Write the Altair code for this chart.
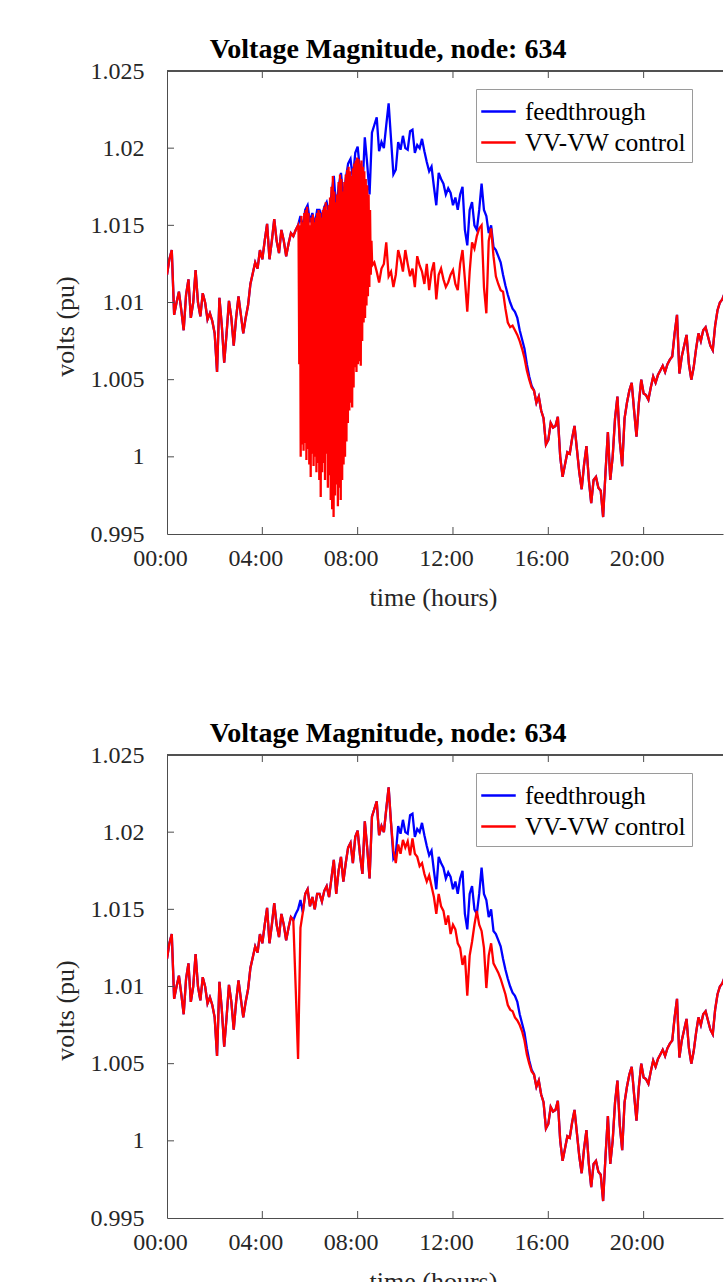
import altair as alt
import pandas as pd

# ---------------- data ----------------
# time grid: 0.0 .. 24.0 h every 0.1 h
HOUR_STEP = 0.1
FEEDTHROUGH = [
    1.0118, 1.0128, 1.0134, 1.0092, 1.0100, 1.0107, 1.0095, 1.0082, 1.0105, 1.0115,  # 0
    1.0090, 1.0100, 1.0121, 1.0100, 1.0091, 1.0106, 1.0100, 1.0089, 1.0093, 1.0088,  # 1
    1.0080, 1.0055, 1.0103, 1.0085, 1.0061, 1.0080, 1.0101, 1.0090, 1.0072, 1.0090,  # 2
    1.0104, 1.0092, 1.0080, 1.0090, 1.0098, 1.0112, 1.0119, 1.0126, 1.0122, 1.0134,  # 3
    1.0128, 1.0140, 1.0151, 1.0128, 1.0140, 1.0154, 1.0140, 1.0132, 1.0147, 1.0140,  # 4
    1.0130, 1.0138, 1.0145, 1.0143, 1.0147, 1.0150, 1.0156, 1.0148, 1.0160, 1.0163,  # 5
    1.0152, 1.0158, 1.0150, 1.0160, 1.0160, 1.0155, 1.0162, 1.0165, 1.0158, 1.0170,  # 6
    1.0182, 1.0160, 1.0175, 1.0184, 1.0168, 1.0180, 1.0190, 1.0193, 1.0180, 1.0197,  # 7
    1.0201, 1.0185, 1.0173, 1.0207, 1.0190, 1.0170, 1.0210, 1.0215, 1.0220, 1.0198,  # 8
    1.0204, 1.0200, 1.0215, 1.0229, 1.0206, 1.0183, 1.0186, 1.0204, 1.0199, 1.0208,  # 9
    1.0200, 1.0199, 1.0211, 1.0212, 1.0197, 1.0202, 1.0200, 1.0206, 1.0198, 1.0191,  # 10
    1.0185, 1.0188, 1.0175, 1.0163, 1.0184, 1.0180, 1.0177, 1.0170, 1.0174, 1.0171,  # 11
    1.0163, 1.0168, 1.0160, 1.0170, 1.0175, 1.0147, 1.0137, 1.0160, 1.0165, 1.0150,  # 12
    1.0147, 1.0160, 1.0177, 1.0160, 1.0156, 1.0145, 1.0150, 1.0136, 1.0134, 1.0130,  # 13
    1.0126, 1.0118, 1.0111, 1.0105, 1.0100, 1.0096, 1.0094, 1.0090, 1.0082, 1.0076,  # 14
    1.0070, 1.0060, 1.0052, 1.0046, 1.0043, 1.0035, 1.0039, 1.0030, 1.0025, 1.0008,  # 15
    1.0011, 1.0022, 1.0019, 1.0020, 1.0026, 1.0000, 0.9987, 0.9995, 1.0003, 1.0002,  # 16
    1.0012, 1.0020, 1.0005, 0.9990, 0.9979, 0.9995, 1.0007, 0.9985, 0.9970, 0.9985,  # 17
    0.9987, 0.9980, 0.9978, 0.9961, 0.9990, 1.0016, 0.9985, 1.0000, 1.0025, 1.0039,  # 18
    1.0010, 0.9994, 1.0025, 1.0035, 1.0043, 1.0048, 1.0030, 1.0013, 1.0035, 1.0050,  # 19
    1.0041, 1.0040, 1.0037, 1.0045, 1.0052, 1.0048, 1.0053, 1.0056, 1.0059, 1.0055,  # 20
    1.0060, 1.0063, 1.0065, 1.0080, 1.0092, 1.0054, 1.0065, 1.0072, 1.0079, 1.0060,  # 21
    1.0050, 1.0058, 1.0070, 1.0080, 1.0075, 1.0082, 1.0084, 1.0078, 1.0072, 1.0069,  # 22
    1.0085, 1.0095, 1.0100, 1.0102, 1.0106, 1.0098, 1.0108, 1.0112, 1.0105, 1.0115,  # 23
    1.0118,                                                                          # 24
]

# top panel, VV-VW control: dense oscillation band 5.52 h .. 8.61 h
BAND_START = 5.52
BAND_STEP = 0.06
BAND_HI = [
    1.0145, 1.0150, 1.0156, 1.0152, 1.0158, 1.0160, 1.0162, 1.0158, 1.0150, 1.0155,
    1.0157, 1.0152, 1.0155, 1.0158, 1.0160, 1.0158, 1.0155, 1.0160, 1.0162, 1.0165,
    1.0160, 1.0163, 1.0168, 1.0175, 1.0182, 1.0172, 1.0165, 1.0170, 1.0178, 1.0183,
    1.0180, 1.0172, 1.0178, 1.0183, 1.0186, 1.0188, 1.0185, 1.0182, 1.0187, 1.0190,
    1.0192, 1.0194, 1.0193, 1.0190, 1.0192, 1.0188, 1.0185, 1.0180, 1.0176, 1.0170,
    1.0160, 1.0140,
]
BAND_LO = [
    1.0060, 1.0000, 1.0008, 1.0004, 1.0009, 0.9998, 1.0005, 0.9995, 0.9987, 1.0002,
    0.9994, 1.0000, 0.9990, 0.9996, 0.9985, 0.9974, 0.9990, 0.9996, 0.9985, 1.0002,
    0.9980, 0.9988, 0.9972, 0.9966, 0.9961, 0.9975, 0.9982, 0.9968, 0.9980, 0.9972,
    0.9985, 0.9995, 1.0000, 1.0010, 1.0022, 1.0030, 1.0035, 1.0032, 1.0045, 1.0058,
    1.0055, 1.0060, 1.0062, 1.0059, 1.0075, 1.0087, 1.0090, 1.0098, 1.0104, 1.0110,
    1.0118, 1.0124,
]
# top panel, VV-VW control after the band: 8.7 .. 15.3 h
TOP_TAIL_START = 8.7
TOP_TAIL = [
    1.0126, 1.0120, 1.0113, 1.0122, 1.0125, 1.0139, 1.0117, 1.0120, 1.0110, 1.0118,
    1.0134, 1.0128, 1.0120, 1.0134, 1.0125, 1.0117, 1.0122, 1.0110, 1.0130, 1.0124,
    1.0120, 1.0112, 1.0125, 1.0108, 1.0120, 1.0126, 1.0102, 1.0118, 1.0122, 1.0115,
    1.0110, 1.0113, 1.0118, 1.0121, 1.0112, 1.0108, 1.0125, 1.0134, 1.0115, 1.0094,
    1.0120, 1.0139, 1.0135, 1.0143, 1.0148, 1.0150, 1.0110, 1.0093, 1.0140, 1.0148,
    1.0130, 1.0117, 1.0112, 1.0108, 1.0107, 1.0096, 1.0087, 1.0084, 1.0085, 1.0082,
    1.0079, 1.0075, 1.0070, 1.0064, 1.0056, 1.0050, 1.0045,
]
# bottom panel, VV-VW control: short dip 5.4 .. 5.6 h and lower curve 9.5 .. 15.3 h
BOTTOM_DIP_START = 5.4
BOTTOM_DIP = [1.0099, 1.0053, 1.0138]
BOTTOM_TAIL_START = 9.5
BOTTOM_TAIL = [
    1.0188, 1.0180, 1.0192, 1.0186, 1.0195, 1.0190, 1.0194, 1.0185, 1.0196, 1.0186,
    1.0184, 1.0178, 1.0180, 1.0173, 1.0168, 1.0172, 1.0165, 1.0158, 1.0147, 1.0160,
    1.0152, 1.0149, 1.0140, 1.0146, 1.0134, 1.0140, 1.0137, 1.0128, 1.0125, 1.0114,
    1.0120, 1.0094, 1.0120, 1.0129, 1.0140, 1.0149, 1.0140, 1.0136, 1.0125, 1.0099,
    1.0120, 1.0128, 1.0115, 1.0112, 1.0109, 1.0105, 1.0100, 1.0095, 1.0088, 1.0085,
    1.0084, 1.0080, 1.0078, 1.0075, 1.0071, 1.0065, 1.0056, 1.0050, 1.0045,
]

X_TICKS = [0, 4, 8, 12, 16, 20]
X_MAX = 23.33          # the reference is cropped just before the 24:00 edge
Y_TICKS = [0.995, 1.0, 1.005, 1.01, 1.015, 1.02, 1.025]
SERIES = ["feedthrough", "VV-VW control"]
COLORS = ["#0000ff", "#ff0000"]
TITLE = "Voltage Magnitude, node: 634"

# ---------------- build tables ----------------
hours = [round(i * HOUR_STEP, 2) for i in range(len(FEEDTHROUGH))]
blue_pts = list(zip(hours, FEEDTHROUGH))


def idx(h):
    return int(round(h / HOUR_STEP))


# top red
top_red = [p for p in blue_pts if p[0] <= 5.5 + 1e-9]
for i, (hi, lo) in enumerate(zip(BAND_HI, BAND_LO)):
    t = BAND_START + i * BAND_STEP
    top_red.append((round(t, 3), hi))
    top_red.append((round(t + BAND_STEP / 2, 3), lo))
top_red += [(round(TOP_TAIL_START + i * HOUR_STEP, 2), v) for i, v in enumerate(TOP_TAIL)]
top_red += blue_pts[idx(TOP_TAIL_START) + len(TOP_TAIL):]

# bottom red
bot_red = blue_pts[:idx(BOTTOM_DIP_START)]
bot_red += [(round(BOTTOM_DIP_START + i * HOUR_STEP, 2), v) for i, v in enumerate(BOTTOM_DIP)]
bot_red += blue_pts[idx(BOTTOM_DIP_START) + len(BOTTOM_DIP):idx(BOTTOM_TAIL_START)]
bot_red += [(round(BOTTOM_TAIL_START + i * HOUR_STEP, 2), v) for i, v in enumerate(BOTTOM_TAIL)]
bot_red += blue_pts[idx(BOTTOM_TAIL_START) + len(BOTTOM_TAIL):]


def frame(points, name):
    return pd.DataFrame({
        "hour": [p[0] for p in points],
        "volts": [p[1] for p in points],
        "series": name,
        "k": list(range(len(points))),
    })


blue_df = frame(blue_pts, SERIES[0])
top_df = frame(top_red, SERIES[1])
bot_df = frame(bot_red, SERIES[1])

ytick_df = pd.DataFrame({"volts": Y_TICKS[1:-1]})
xtick_df = pd.DataFrame({"hour": X_TICKS[1:]})

# ---------------- chart ----------------
W, H = 556, 463
AX = "#4d4d4d"
FONT = "Liberation Serif"

x_enc = alt.X(
    "hour:Q",
    scale=alt.Scale(domain=[0, X_MAX], nice=False, zero=False),
    axis=alt.Axis(
        values=X_TICKS,
        labelExpr="(datum.value % 24 < 10 ? '0' : '') + (datum.value % 24) + ':00'",
        title="time (hours)",
        titleX=266, titleY=63, titleBaseline="middle",
        labelPadding=12, labelOffset=-7, labelFlush=False,
    ),
)
y_enc = alt.Y(
    "volts:Q",
    scale=alt.Scale(domain=[0.995, 1.025], nice=False, zero=False),
    axis=alt.Axis(
        values=Y_TICKS,
        labelExpr="format(datum.value, '.3~f')",
        title="volts (pu)",
        titleX=-102, titleY=255, titleBaseline="middle", titleAngle=270,
        labelPadding=23, labelFlush=False,
    ),
)
color_enc = alt.Color(
    "series:N",
    scale=alt.Scale(domain=SERIES, range=COLORS),
    legend=alt.Legend(
        title=None, orient="none", legendX=309, legendY=18,
        symbolType="M-1.15,0H1.15", symbolSize=900, symbolStrokeWidth=2.5,
        labelFontSize=25, labelFont=FONT, labelColor="#000000", labelOffset=10,
        labelLimit=400,
        padding=6, rowPadding=1, fillColor="#ffffff", strokeColor="#9a9a9a",
    ),
)


def panel(red_df):
    blue = alt.Chart(blue_df).mark_line(strokeWidth=2.3, clip=True).encode(
        x=x_enc, y=y_enc, color=color_enc, order="k:Q")
    red = alt.Chart(red_df).mark_line(strokeWidth=2.3, clip=True).encode(
        x=x_enc, y=y_enc, color=color_enc, order="k:Q")
    yt = alt.Chart(ytick_df).mark_rule(color=AX, strokeWidth=1).encode(
        y=y_enc, x=alt.value(0), x2=alt.value(7))
    xb = alt.Chart(xtick_df).mark_rule(color=AX, strokeWidth=1).encode(
        x=x_enc, y=alt.value(H), y2=alt.value(H - 7))
    xt = alt.Chart(xtick_df).mark_rule(color=AX, strokeWidth=1).encode(
        x=x_enc, y=alt.value(0), y2=alt.value(7))
    top_frame = alt.Chart(xtick_df).mark_rule(color=AX, strokeWidth=1).encode(
        x=alt.value(0), x2=alt.value(W), y=alt.value(0))
    return alt.layer(blue, red, yt, xb, xt, top_frame).properties(
        width=W, height=H,
        title=alt.TitleParams(TITLE, fontSize=28, fontWeight="bold", font=FONT,
                              color="#000000", anchor="middle", dx=-57, dy=5, offset=0),
    )


chart = alt.vconcat(panel(top_df), panel(bot_df), spacing=110).resolve_scale(
    color="independent"
).properties(
    padding={"left": 52, "top": 36, "right": 0, "bottom": 0},
    background="#ffffff",
).configure_axis(
    grid=False, ticks=False, domainColor=AX, labelFont=FONT, titleFont=FONT,
    labelFontSize=24, titleFontSize=26, labelColor="#262626", titleColor="#262626",
    titleFontWeight="normal",
).configure_view(strokeWidth=0)

chart.save("out.html", embed_options={"renderer": "svg", "actions": False})
